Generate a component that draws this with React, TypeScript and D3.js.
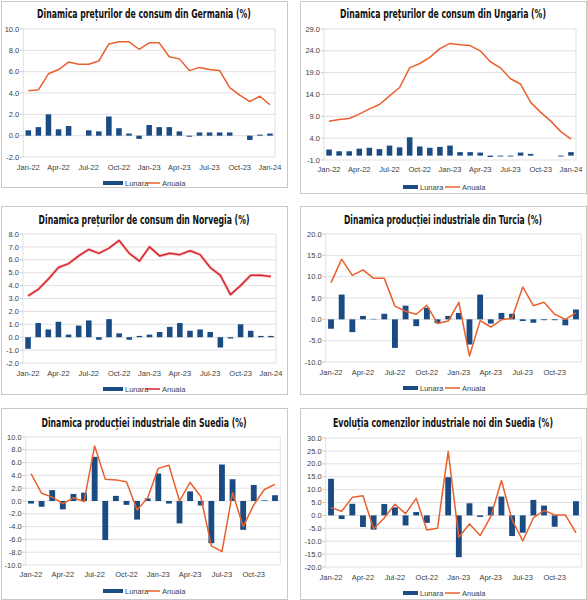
import React, { useLayoutEffect, useRef, useState } from "react";
import * as d3 from "d3";

const months = [
  "Jan-22", "Feb-22", "Mar-22", "Apr-22", "May-22", "Jun-22", "Jul-22", "Aug-22", "Sep-22", "Oct-22", "Nov-22", "Dec-22",
  "Jan-23", "Feb-23", "Mar-23", "Apr-23", "May-23", "Jun-23", "Jul-23", "Aug-23", "Sep-23", "Oct-23", "Nov-23", "Dec-23",
  "Jan-24",
];
const months24 = months.slice(0, 24);

const germanyLunara = [0.5, 0.8, 2.0, 0.6, 0.9, 0.0, 0.5, 0.4, 1.8, 0.7, 0.2, -0.3, 1.0, 0.8, 0.8, 0.4, -0.1, 0.3, 0.3, 0.3, 0.3, 0.0, -0.4, 0.1, 0.2];
const germanyAnuala = [4.2, 4.3, 5.8, 6.2, 6.9, 6.7, 6.7, 7.0, 8.6, 8.8, 8.8, 8.1, 8.7, 8.7, 7.4, 7.2, 6.1, 6.4, 6.2, 6.1, 4.5, 3.8, 3.2, 3.7, 2.9];

const hungaryLunara = [1.4, 1.0, 1.0, 1.6, 1.8, 1.5, 2.3, 1.9, 4.2, 2.1, 1.8, 2.0, 2.3, 0.8, 0.8, 0.7, -0.3, -0.2, -0.2, 0.7, 0.4, 0.0, 0.0, -0.2, 0.8];
const hungaryAnuala = [7.9, 8.3, 8.5, 9.5, 10.7, 11.7, 13.7, 15.6, 20.1, 21.1, 22.5, 24.5, 25.7, 25.4, 25.2, 24.0, 21.5, 20.1, 17.6, 16.4, 12.2, 9.9, 7.9, 5.5, 3.8];

const norwayLunara = [-0.9, 1.1, 0.6, 1.2, 0.2, 0.9, 1.3, -0.2, 1.4, 0.3, -0.2, 0.1, 0.2, 0.4, 0.8, 1.1, 0.5, 0.6, 0.4, -0.8, -0.1, 1.0, 0.5, 0.1, 0.1];
const norwayAnuala = [3.2, 3.7, 4.5, 5.4, 5.7, 6.3, 6.8, 6.5, 6.9, 7.5, 6.5, 5.9, 7.0, 6.3, 6.5, 6.4, 6.7, 6.4, 5.4, 4.8, 3.3, 4.0, 4.8, 4.8, 4.7];

const turkeyLunara = [-2.2, 5.8, -3.0, 0.8, 0.1, 1.3, -6.7, 3.2, -1.6, 2.7, -0.9, 0.8, 1.5, -5.9, 5.8, -1.0, 1.5, 1.3, -0.4, -0.8, -0.2, -0.2, -1.4, 2.3];
const turkeyAnuala = [8.6, 14.1, 10.3, 11.6, 9.6, 9.6, 3.1, 1.9, 1.2, 3.3, -1.0, -0.4, 4.0, -8.6, -0.3, -1.8, -0.1, 0.3, 7.6, 3.2, 4.0, 1.2, 0.0, 1.5];

const swedenProdLunara = [-0.4, -0.9, 1.7, -1.3, 1.1, 1.3, 6.9, -6.1, 0.8, -0.6, -2.9, 0.4, 4.3, -0.4, -3.5, 1.5, -0.7, -6.6, 5.7, 3.4, -4.5, 2.5, 0.1, 0.9];
const swedenProdAnuala = [4.3, 1.2, 0.6, -0.4, 0.5, -0.1, 8.6, 3.4, 3.3, 3.0, -1.4, 0.5, 5.1, 5.6, 0.0, 2.9, 0.7, -7.0, -7.9, 1.3, -4.0, -0.6, 1.8, 2.6];

const swedenOrdLunara = [14.2, -1.4, 4.5, -4.5, -5.5, 4.4, 3.1, -3.9, 1.3, -2.9, 0.0, 14.8, -16.2, 4.7, -0.6, 3.4, 7.3, -8.0, -6.7, 6.0, 3.8, -4.4, 0.0, 5.5];
const swedenOrdAnuala = [3.0, 1.6, 7.0, 7.6, -5.2, -1.0, 4.3, 0.7, 6.6, -5.7, -5.0, 24.8, -8.5, -3.3, -7.8, -0.5, 13.5, -1.7, -9.9, -1.0, 1.9, 0.2, 0.2, -6.8];

const BAR = "#1a4b82";
const ORANGE = "#e8602c";
const RED = "#d7262e";
const GRID = "#d9d9d9";
const TXT = "#404040";
const TICK_FONT = "'Liberation Sans', Arial, sans-serif";
const TITLE_FONT = "'DejaVu Sans Condensed', 'Liberation Sans', sans-serif";

// title squeezed horizontally to the width it has in the picture
function Title({ cx, y, width, text }: { cx: number; y: number; width: number; text: string }) {
  const ref = useRef<SVGTextElement>(null);
  const [sx, setSx] = useState(0.65);
  useLayoutEffect(() => {
    if (ref.current) {
      const w = ref.current.getComputedTextLength();
      if (w > 0) setSx(width / w);
    }
  }, [text, width]);
  return (
    <text
      ref={ref}
      transform={`translate(${cx},${y}) scale(${sx},1)`}
      textAnchor="middle"
      fontFamily={TITLE_FONT}
      fontWeight="bold"
      fontSize={12.5}
      fill="#111"
    >
      {text}
    </text>
  );
}

interface PanelProps {
  box: [number, number, number, number];
  title: string;
  titleY: number;
  titleW: number;
  cats: string[];
  lunara: number[];
  anuala: number[];
  yMin: number;
  yMax: number;
  yStep: number;
  plot: { l: number; r: number; t: number; b: number };
  xLabelY: number;
  legendY: number;
  legendX: number;
  swatchW: number;
  lineColor: string;
  halo?: boolean;
}

function Panel(p: PanelProps) {
  const [bx, by, bw, bh] = p.box;
  const cx = bx + bw / 2;
  const x = d3.scaleBand<string>().domain(p.cats).range([p.plot.l, p.plot.r]).paddingInner(0.45).paddingOuter(0.225);
  const y = d3.scaleLinear().domain([p.yMin, p.yMax]).range([p.plot.b, p.plot.t]);
  const ticks = d3.range(p.yMin, p.yMax + p.yStep / 2, p.yStep);
  const center = (c: string) => (x(c) as number) + x.bandwidth() / 2;
  const line = d3.line<number>()
    .x((_, i) => center(p.cats[i]))
    .y((v) => y(v));
  const path = line(p.anuala) || "";
  const lx = p.legendX;

  return (
    <g>
      <rect x={bx + 0.5} y={by + 0.5} width={bw} height={bh} fill="#fff" stroke="#c8c8c8" />
      <Title cx={cx} y={p.titleY} width={p.titleW} text={p.title} />
      {ticks.map((t) => (
        <g key={t}>
          <line x1={p.plot.l} x2={p.plot.r} y1={y(t)} y2={y(t)} stroke={GRID} strokeWidth={0.8} />
          <line x1={p.plot.l - 3} x2={p.plot.l} y1={y(t)} y2={y(t)} stroke="#bbb" strokeWidth={0.8} />
          <text x={p.plot.l - 4} y={y(t) + 2.6} textAnchor="end" fontFamily={TICK_FONT} fontSize={7.5} fill={TXT}>
            {t.toFixed(1)}
          </text>
        </g>
      ))}
      <line x1={p.plot.l} x2={p.plot.l} y1={p.plot.t} y2={p.plot.b} stroke={GRID} strokeWidth={0.8} />
      <line x1={p.plot.r} x2={p.plot.r} y1={p.plot.t} y2={p.plot.b} stroke={GRID} strokeWidth={0.8} />
      {p.cats.map((c, i) =>
        i % 3 === 0 ? (
          <text key={c} x={center(c)} y={p.xLabelY} textAnchor="middle" fontFamily={TICK_FONT} fontSize={7.5} fill={TXT}>
            {c}
          </text>
        ) : null
      )}
      {p.lunara.map((v, i) => (
        <rect
          key={i}
          x={x(p.cats[i])}
          y={y(Math.max(0, v))}
          width={x.bandwidth()}
          height={Math.abs(y(v) - y(0))}
          fill={BAR}
        />
      ))}
      {p.halo && <path d={path} fill="none" stroke="#f2a0a0" strokeWidth={3.2} strokeOpacity={0.6} strokeLinejoin="round" />}
      <path d={path} fill="none" stroke={p.lineColor} strokeWidth={1.5} strokeLinejoin="round" />
      <rect x={lx} y={p.legendY - 2} width={p.swatchW} height={4} fill={BAR} />
      <text x={lx + p.swatchW + 2} y={p.legendY + 2.8} fontFamily={TICK_FONT} fontSize={7.5} fill={TXT}>
        Lunara
      </text>
      <line x1={lx + 42} x2={lx + 57} y1={p.legendY} y2={p.legendY} stroke={p.lineColor} strokeWidth={1.5} />
      <text x={lx + 59} y={p.legendY + 2.8} fontFamily={TICK_FONT} fontSize={7.5} fill={TXT}>
        Anuala
      </text>
    </g>
  );
}

export default function App() {
  return (
    <svg width={587} height={600} style={{ position: "absolute", left: 0, top: 0, background: "#fff" }}>
      <Panel
        box={[1, 1, 286, 186]}
        title="Dinamica prețurilor de consum din Germania (%)"
        titleY={17.5}
        titleW={214}
        cats={months}
        lunara={germanyLunara}
        anuala={germanyAnuala}
        yMin={-2}
        yMax={10}
        yStep={2}
        plot={{ l: 23.3, r: 275, t: 29, b: 157 }}
        xLabelY={170}
        legendY={183}
        legendX={103}
        swatchW={20}
        lineColor={ORANGE}
      />
      <Panel
        box={[300, 1, 286, 192]}
        title="Dinamica prețurilor de consum din Ungaria (%)"
        titleY={17.5}
        titleW={206}
        cats={months}
        lunara={hungaryLunara}
        anuala={hungaryAnuala}
        yMin={-1}
        yMax={29}
        yStep={5}
        plot={{ l: 324, r: 576, t: 29, b: 160 }}
        xLabelY={172}
        legendY={187}
        legendX={403}
        swatchW={15}
        lineColor={ORANGE}
      />
      <Panel
        box={[1, 206, 286, 188]}
        title="Dinamica prețurilor de consum din Norvegia (%)"
        titleY={223.5}
        titleW={211}
        cats={months}
        lunara={norwayLunara}
        anuala={norwayAnuala}
        yMin={-2}
        yMax={8}
        yStep={1}
        plot={{ l: 23, r: 276, t: 234, b: 363 }}
        xLabelY={376}
        legendY={389}
        legendX={103}
        swatchW={20}
        lineColor={RED}
        halo
      />
      <Panel
        box={[300, 206, 286, 188]}
        title="Dinamica producției industriale din Turcia (%)"
        titleY={223.5}
        titleW={198}
        cats={months24}
        lunara={turkeyLunara}
        anuala={turkeyAnuala}
        yMin={-10}
        yMax={20}
        yStep={5}
        plot={{ l: 325.7, r: 581.3, t: 234, b: 362 }}
        xLabelY={375}
        legendY={388}
        legendX={403}
        swatchW={15}
        lineColor={ORANGE}
      />
      <Panel
        box={[1, 408, 286, 191]}
        title="Dinamica producției industriale din Suedia (%)"
        titleY={426.5}
        titleW={205}
        cats={months24}
        lunara={swedenProdLunara}
        anuala={swedenProdAnuala}
        yMin={-10}
        yMax={10}
        yStep={2}
        plot={{ l: 25.7, r: 280.3, t: 437, b: 565 }}
        xLabelY={577}
        legendY={591}
        legendX={103}
        swatchW={20}
        lineColor={ORANGE}
      />
      <Panel
        box={[300, 408, 286, 191]}
        title="Evoluția comenzilor industriale noi din Suedia (%)"
        titleY={426.5}
        titleW={220}
        cats={months24}
        lunara={swedenOrdLunara}
        anuala={swedenOrdAnuala}
        yMin={-20}
        yMax={30}
        yStep={5}
        plot={{ l: 325.7, r: 581.3, t: 438, b: 567 }}
        xLabelY={580}
        legendY={593}
        legendX={403}
        swatchW={15}
        lineColor={ORANGE}
      />
    </svg>
  );
}
